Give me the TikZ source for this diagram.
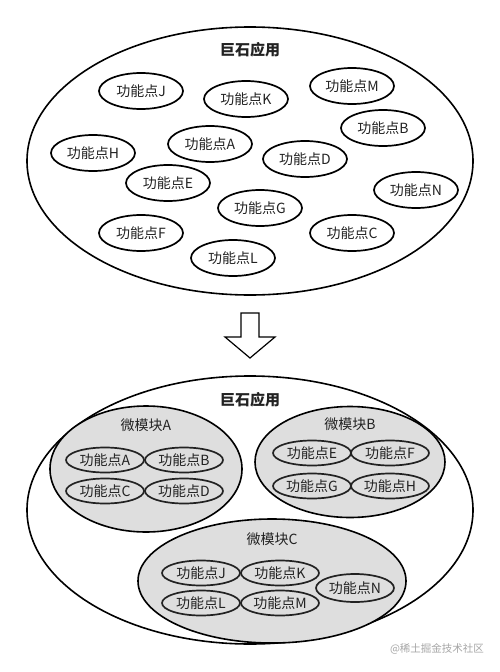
\documentclass[tikz,border=0pt]{standalone}
\usepackage{fontspec}
\setmainfont{Noto Sans CJK SC}
\usetikzlibrary{shapes.geometric}
\definecolor{modfill}{HTML}{DEDEDE}
\definecolor{ink}{HTML}{222222}
\begin{document}
\begin{tikzpicture}[x=1pt,y=-1pt,
  big/.style={ellipse, draw=black, line width=1.6pt, inner sep=0pt, minimum width=446pt, minimum height=268pt},
  title/.style={font=\fontsize{15}{15}\selectfont\bfseries, text=ink, inner sep=0pt},
  fp/.style={ellipse, draw=black, line width=1.7pt, inner sep=0pt, minimum width=84pt, minimum height=36pt, font=\fontsize{14}{14}\selectfont, text=ink},
  mod/.style={ellipse, draw=black, fill=modfill, line width=1.6pt, inner sep=0pt},
  modlabel/.style={font=\fontsize{14}{14}\selectfont, text=ink, inner sep=0pt},
  fps/.style={ellipse, draw=ink, fill=modfill, line width=1.7pt, inner sep=0pt, minimum width=78pt, minimum height=25pt, font=\fontsize{14}{14}\selectfont, text=ink},
  bigarrow/.style={draw=black, fill=white, line width=1.2pt, line join=miter}
]
\useasboundingbox (0,0) rectangle (500,672);
\fill[white] (0,0) rectangle (500,672);

% ---------- top monolith ----------
\node[big] (mono1) at (250,161) {};
\node[title] (t1) at (250,50) {巨石应用};
\node[fp] (J) at (141,91) {功能点J};
\node[fp] (K) at (246,99) {功能点K};
\node[fp] (M) at (352,86) {功能点M};
\node[fp] (B) at (383,128) {功能点B};
\node[fp] (A) at (210,144) {功能点A};
\node[fp] (H) at (93,153) {功能点H};
\node[fp] (D) at (305,159) {功能点D};
\node[fp] (E) at (168,183) {功能点E};
\node[fp] (N) at (416,190) {功能点N};
\node[fp] (G) at (260,208) {功能点G};
\node[fp] (F) at (141,233) {功能点F};
\node[fp] (C) at (352,233) {功能点C};
\node[fp] (L) at (233,258) {功能点L};

% ---------- hollow arrow ----------
\draw[bigarrow] (241,313) -- (259,313) -- (259,337) -- (275,337) -- (250,358)
  -- (225,337) -- (241,337) -- cycle;

% ---------- bottom monolith ----------
\node[big] (mono2) at (250,510) {};
\node[title] (t2) at (250,400) {巨石应用};

\node[mod, minimum width=192pt, minimum height=126pt] (modA) at (146,469) {};
\node[modlabel] (lA) at (146,425) {微模块A};
\node[fps] (bA) at (105,460) {功能点A};
\node[fps] (bB) at (184,460) {功能点B};
\node[fps] (bC) at (105,491) {功能点C};
\node[fps] (bD) at (184,491) {功能点D};

\node[mod, minimum width=190pt, minimum height=111pt] (modB) at (350,462) {};
\node[modlabel] (lB) at (350,424) {微模块B};
\node[fps] (bE) at (312,453) {功能点E};
\node[fps] (bF) at (390,453) {功能点F};
\node[fps] (bG) at (312,486) {功能点G};
\node[fps] (bH) at (390,486) {功能点H};

\node[mod, minimum width=268pt, minimum height=124pt] (modC) at (272,581) {};
\node[modlabel] (lC) at (272,539) {微模块C};
\node[fps] (bJ) at (201,573) {功能点J};
\node[fps] (bK) at (280,573) {功能点K};
\node[fps] (bL) at (201,603) {功能点L};
\node[fps] (bM) at (280,603) {功能点M};
\node[fps, minimum height=28pt] (bN) at (355,588) {功能点N};

% watermark
\node[font=\fontsize{10.5}{10.5}\selectfont, text=black!35, inner sep=0pt] (wm) at (437,649) {@稀土掘金技术社区};
\end{tikzpicture}
\end{document}
